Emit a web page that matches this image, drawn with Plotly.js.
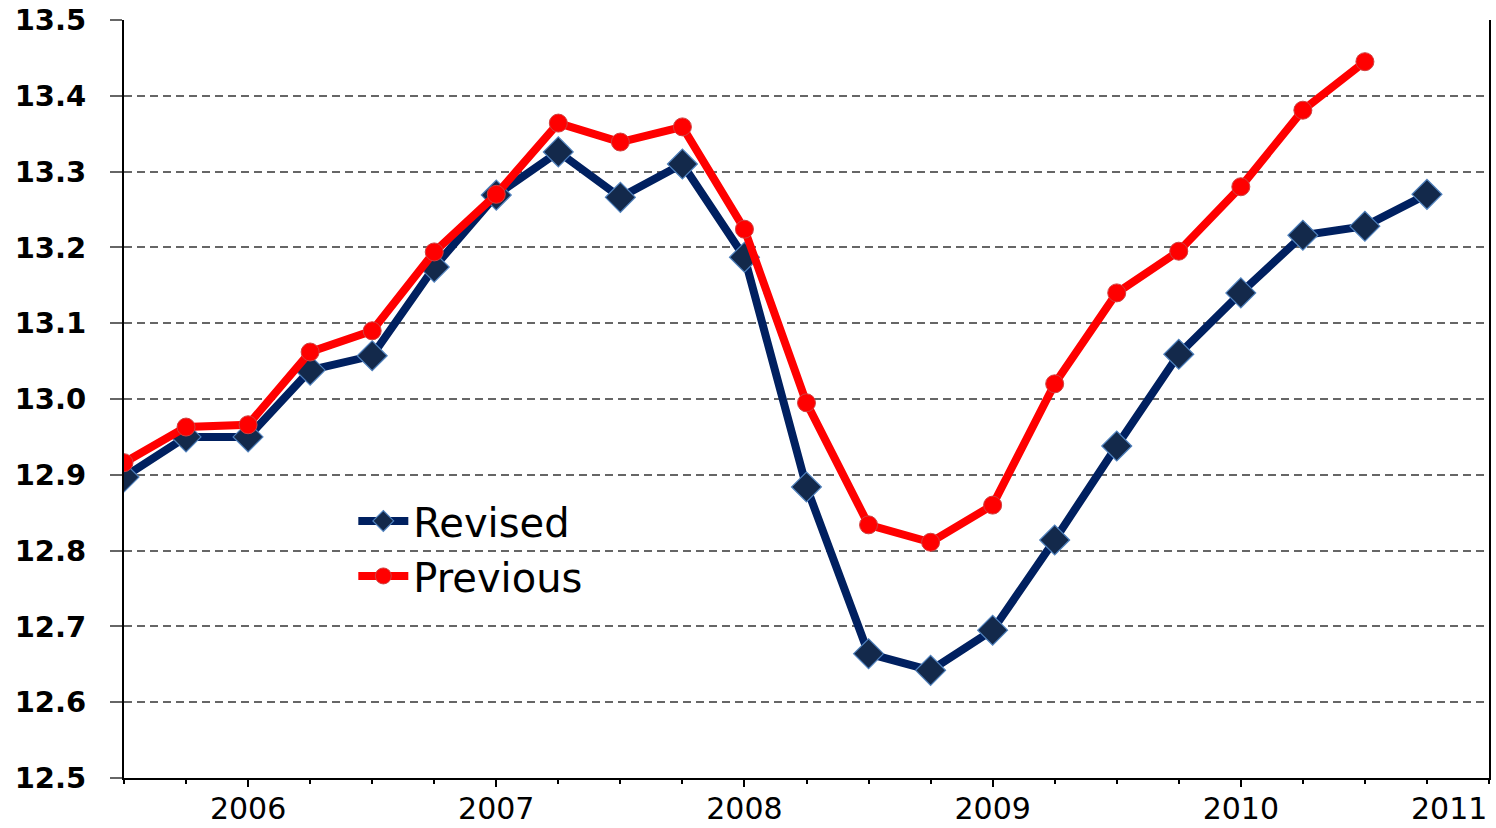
<!DOCTYPE html>
<html>
<head>
<meta charset="utf-8">
<script src="https://cdn.plot.ly/plotly-3.0.1.min.js"></script>
<style>html,body{margin:0;padding:0;background:#fff;}#chart{width:1496px;height:828px;}</style>
</head>
<body>
<div id="chart"></div>
<script>
// Quarterly index positions (0 = first quarter shown)
const quarters = [0,1,2,3,4,5,6,7,8,9,10,11,12,13,14,15,16,17,18,19,20,21];
const revised = [12.897,12.950,12.950,13.038,13.057,13.174,13.269,13.326,13.266,13.310,13.187,12.884,12.664,12.642,12.695,12.814,12.938,13.059,13.140,13.216,13.228,13.270];
const previous = [12.916,12.963,12.966,13.062,13.090,13.194,13.270,13.364,13.339,13.359,13.224,12.995,12.834,12.811,12.860,13.020,13.140,13.195,13.280,13.381,13.445];
const yearTickVals = [2,6,10,14,18];
const yearTickText = ["2006","2007","2008","2009","2010"];
const lastYearLabel = "2011";
const lastYearPos = 22;
const halfYearTicks = [0,4,8,12,16,20,22];
const quarterTicks = [0,1,2,3,4,5,6,7,8,9,10,11,12,13,14,15,16,17,18,19,20,21,22];

const traces = [
  {x: quarters, y: revised, name: "Revised", type: "scatter", mode: "lines+markers",
   line: {color: "#002060", width: 8},
   marker: {symbol: "diamond", size: 23, color: "#13294b", line: {color: "#4f81bd", width: 1.2}}},
  {x: quarters.slice(0, previous.length), y: previous, name: "Previous", type: "scatter", mode: "lines+markers",
   line: {color: "#ff0000", width: 8},
   marker: {symbol: "circle", size: 18, color: "#ff0000", line: {color: "#d04040", width: 1}}}
];

const layout = {
  width: 1496, height: 828,
  margin: {l: 124, r: 7, t: 20, b: 50},
  paper_bgcolor: "#ffffff", plot_bgcolor: "#ffffff",
  showlegend: true,
  legend: {x: 0.168, y: 0.382, xanchor: "left", yanchor: "top", bgcolor: "rgba(0,0,0,0)",
           font: {family: "DejaVu Sans", size: 40, color: "#000"}, tracegroupgap: 0, itemwidth: 50},
  xaxis: {range: [0, 22], showgrid: false, zeroline: false,
          showline: true, linecolor: "#000", linewidth: 2,
          tickmode: "array",
          tickvals: yearTickVals.concat(halfYearTicks),
          ticktext: yearTickText.concat(halfYearTicks.map(() => "")),
          ticks: "outside", ticklen: 7, tickcolor: "#000", tickwidth: 1.5,
          ticklabelstandoff: -4,
          tickfont: {family: "DejaVu Sans", size: 30, color: "#000"},
          minor: {tickvals: quarterTicks, ticks: "outside", ticklen: 4, tickcolor: "#000", tickwidth: 1.5, showgrid: false}},
  yaxis: {range: [12.5, 13.5], dtick: 0.1, tick0: 12.5, tickformat: ".1f",
          showline: true, linecolor: "#000", linewidth: 2, mirror: true,
          ticks: "outside", ticklen: 12, tickcolor: "#666", tickwidth: 1.5,
          ticklabelstandoff: 18,
          showgrid: true, gridcolor: "#666", griddash: "8px,5px", gridwidth: 1.5, zeroline: false,
          tickfont: {family: "DejaVu Sans", size: 29, color: "#000", weight: "bold"}},
  annotations: [{x: lastYearPos, y: 0, xref: "x", yref: "paper", text: lastYearLabel, showarrow: false,
                 xanchor: "right", yanchor: "top", yshift: -11,
                 font: {family: "DejaVu Sans", size: 30, color: "#000"}}]
};

Plotly.newPlot("chart", traces, layout, {displayModeBar: false});
</script>
</body>
</html>
